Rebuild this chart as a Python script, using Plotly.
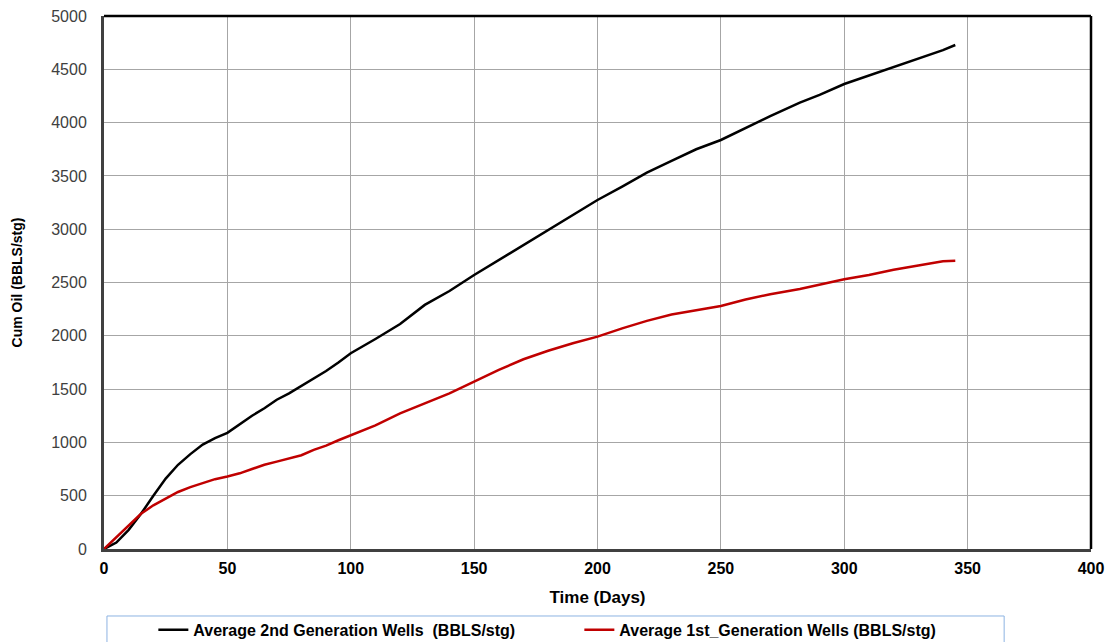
import plotly.graph_objects as go

# Cumulative oil per stage, second-generation wells
days_2nd = [0, 5, 10, 15, 20, 25, 30, 35, 40, 45, 50, 55, 60, 65, 70, 75, 80, 85, 90, 95,
            100, 110, 120, 130, 140, 150, 160, 170, 180, 190, 200, 210, 220, 230, 240,
            250, 260, 270, 282, 290, 300, 310, 320, 330, 340, 345]
cum_2nd = [0, 60, 180, 330, 500, 660, 790, 890, 980, 1040, 1090, 1170, 1250, 1320, 1400,
           1460, 1530, 1600, 1670, 1750, 1836, 1970, 2110, 2290, 2420, 2570, 2711, 2850,
           2990, 3130, 3274, 3400, 3530, 3640, 3750, 3837, 3950, 4060, 4187, 4260, 4362,
           4440, 4520, 4600, 4680, 4728]

# Cumulative oil per stage, first-generation wells
days_1st = [0, 5, 10, 15, 20, 25, 30, 35, 40, 45, 50, 55, 60, 65, 70, 75, 80, 85, 90, 95,
            100, 110, 120, 130, 140, 150, 160, 170, 180, 190, 200, 210, 220, 230, 240,
            250, 260, 270, 282, 290, 300, 310, 320, 330, 340, 345]
cum_1st = [0, 110, 220, 330, 410, 470, 535, 580, 620, 655, 680, 710, 750, 790, 820, 850,
           880, 930, 970, 1020, 1069, 1160, 1273, 1370, 1460, 1570, 1680, 1780, 1860, 1930,
           1992, 2070, 2140, 2200, 2240, 2280, 2340, 2390, 2439, 2480, 2530, 2570, 2620,
           2660, 2700, 2705]

x_ticks = [0, 50, 100, 150, 200, 250, 300, 350, 400]
y_ticks = [0, 500, 1000, 1500, 2000, 2500, 3000, 3500, 4000, 4500, 5000]

name_2nd = "Average 2nd Generation Wells  (BBLS/stg)"
name_1st = "Average 1st_Generation Wells (BBLS/stg)"

FONT = "Liberation Sans, Arial, sans-serif"

fig = go.Figure()
fig.add_trace(go.Scatter(x=days_2nd, y=cum_2nd, mode="lines", name=name_2nd,
                         line=dict(color="#000000", width=2.5)))
fig.add_trace(go.Scatter(x=days_1st, y=cum_1st, mode="lines", name=name_1st,
                         line=dict(color="#c00000", width=2.5)))

fig.update_layout(
    width=1110, height=642,
    margin=dict(l=104, r=19, t=16, b=93, autoexpand=False),
    paper_bgcolor="white", plot_bgcolor="white",
    font=dict(family=FONT, size=14, color="#000000"),
    xaxis=dict(
        range=[0, 400], tickvals=x_ticks, ticktext=[str(v) for v in x_ticks],
        showgrid=True, gridcolor="#a6a6a6", gridwidth=1,
        showline=True, linecolor="#404040", linewidth=3,
        zeroline=False, ticks="", ticklabelstandoff=3,
        tickfont=dict(family=FONT, size=16, color="#000000", weight="bold"),
        title=dict(text="<b>Time (Days)</b>", font=dict(family=FONT, size=17), standoff=15),
    ),
    yaxis=dict(
        range=[0, 5000], tickvals=y_ticks, ticktext=[str(v) for v in y_ticks],
        showgrid=True, gridcolor="#a6a6a6", gridwidth=1,
        showline=True, linecolor="#404040", linewidth=3,
        zeroline=False, ticks="", ticklabelstandoff=11,
        tickfont=dict(family=FONT, size=16, color="#404040"),
        title=dict(text="<b>Cum Oil (BBLS/stg)</b>", font=dict(family=FONT, size=14), standoff=26),
    ),
    showlegend=True,
    legend=dict(
        orientation="h", x=0.05, xanchor="left", y=-0.12, yanchor="top",
        font=dict(family=FONT, size=16, color="#000000", weight="bold"),
        bgcolor="rgba(0,0,0,0)", borderwidth=0,
        entrywidth=381, entrywidthmode="pixels", tracegroupgap=0,
    ),
    shapes=[
        # black frame on top and right sides
        dict(type="line", xref="paper", yref="paper", x0=0, x1=1, y0=1, y1=1,
             line=dict(color="#000000", width=2.5)),
        dict(type="line", xref="paper", yref="paper", x0=1, x1=1, y0=0, y1=1,
             line=dict(color="#000000", width=2.5)),
        # legend box
        dict(type="rect", xref="paper", yref="paper", x0=0.003, x1=0.912,
             y0=-0.19, y1=-0.1257, line=dict(color="#8db3e2", width=1),
             fillcolor="rgba(0,0,0,0)", layer="below"),
    ],
)

fig.write_html("out.html")
